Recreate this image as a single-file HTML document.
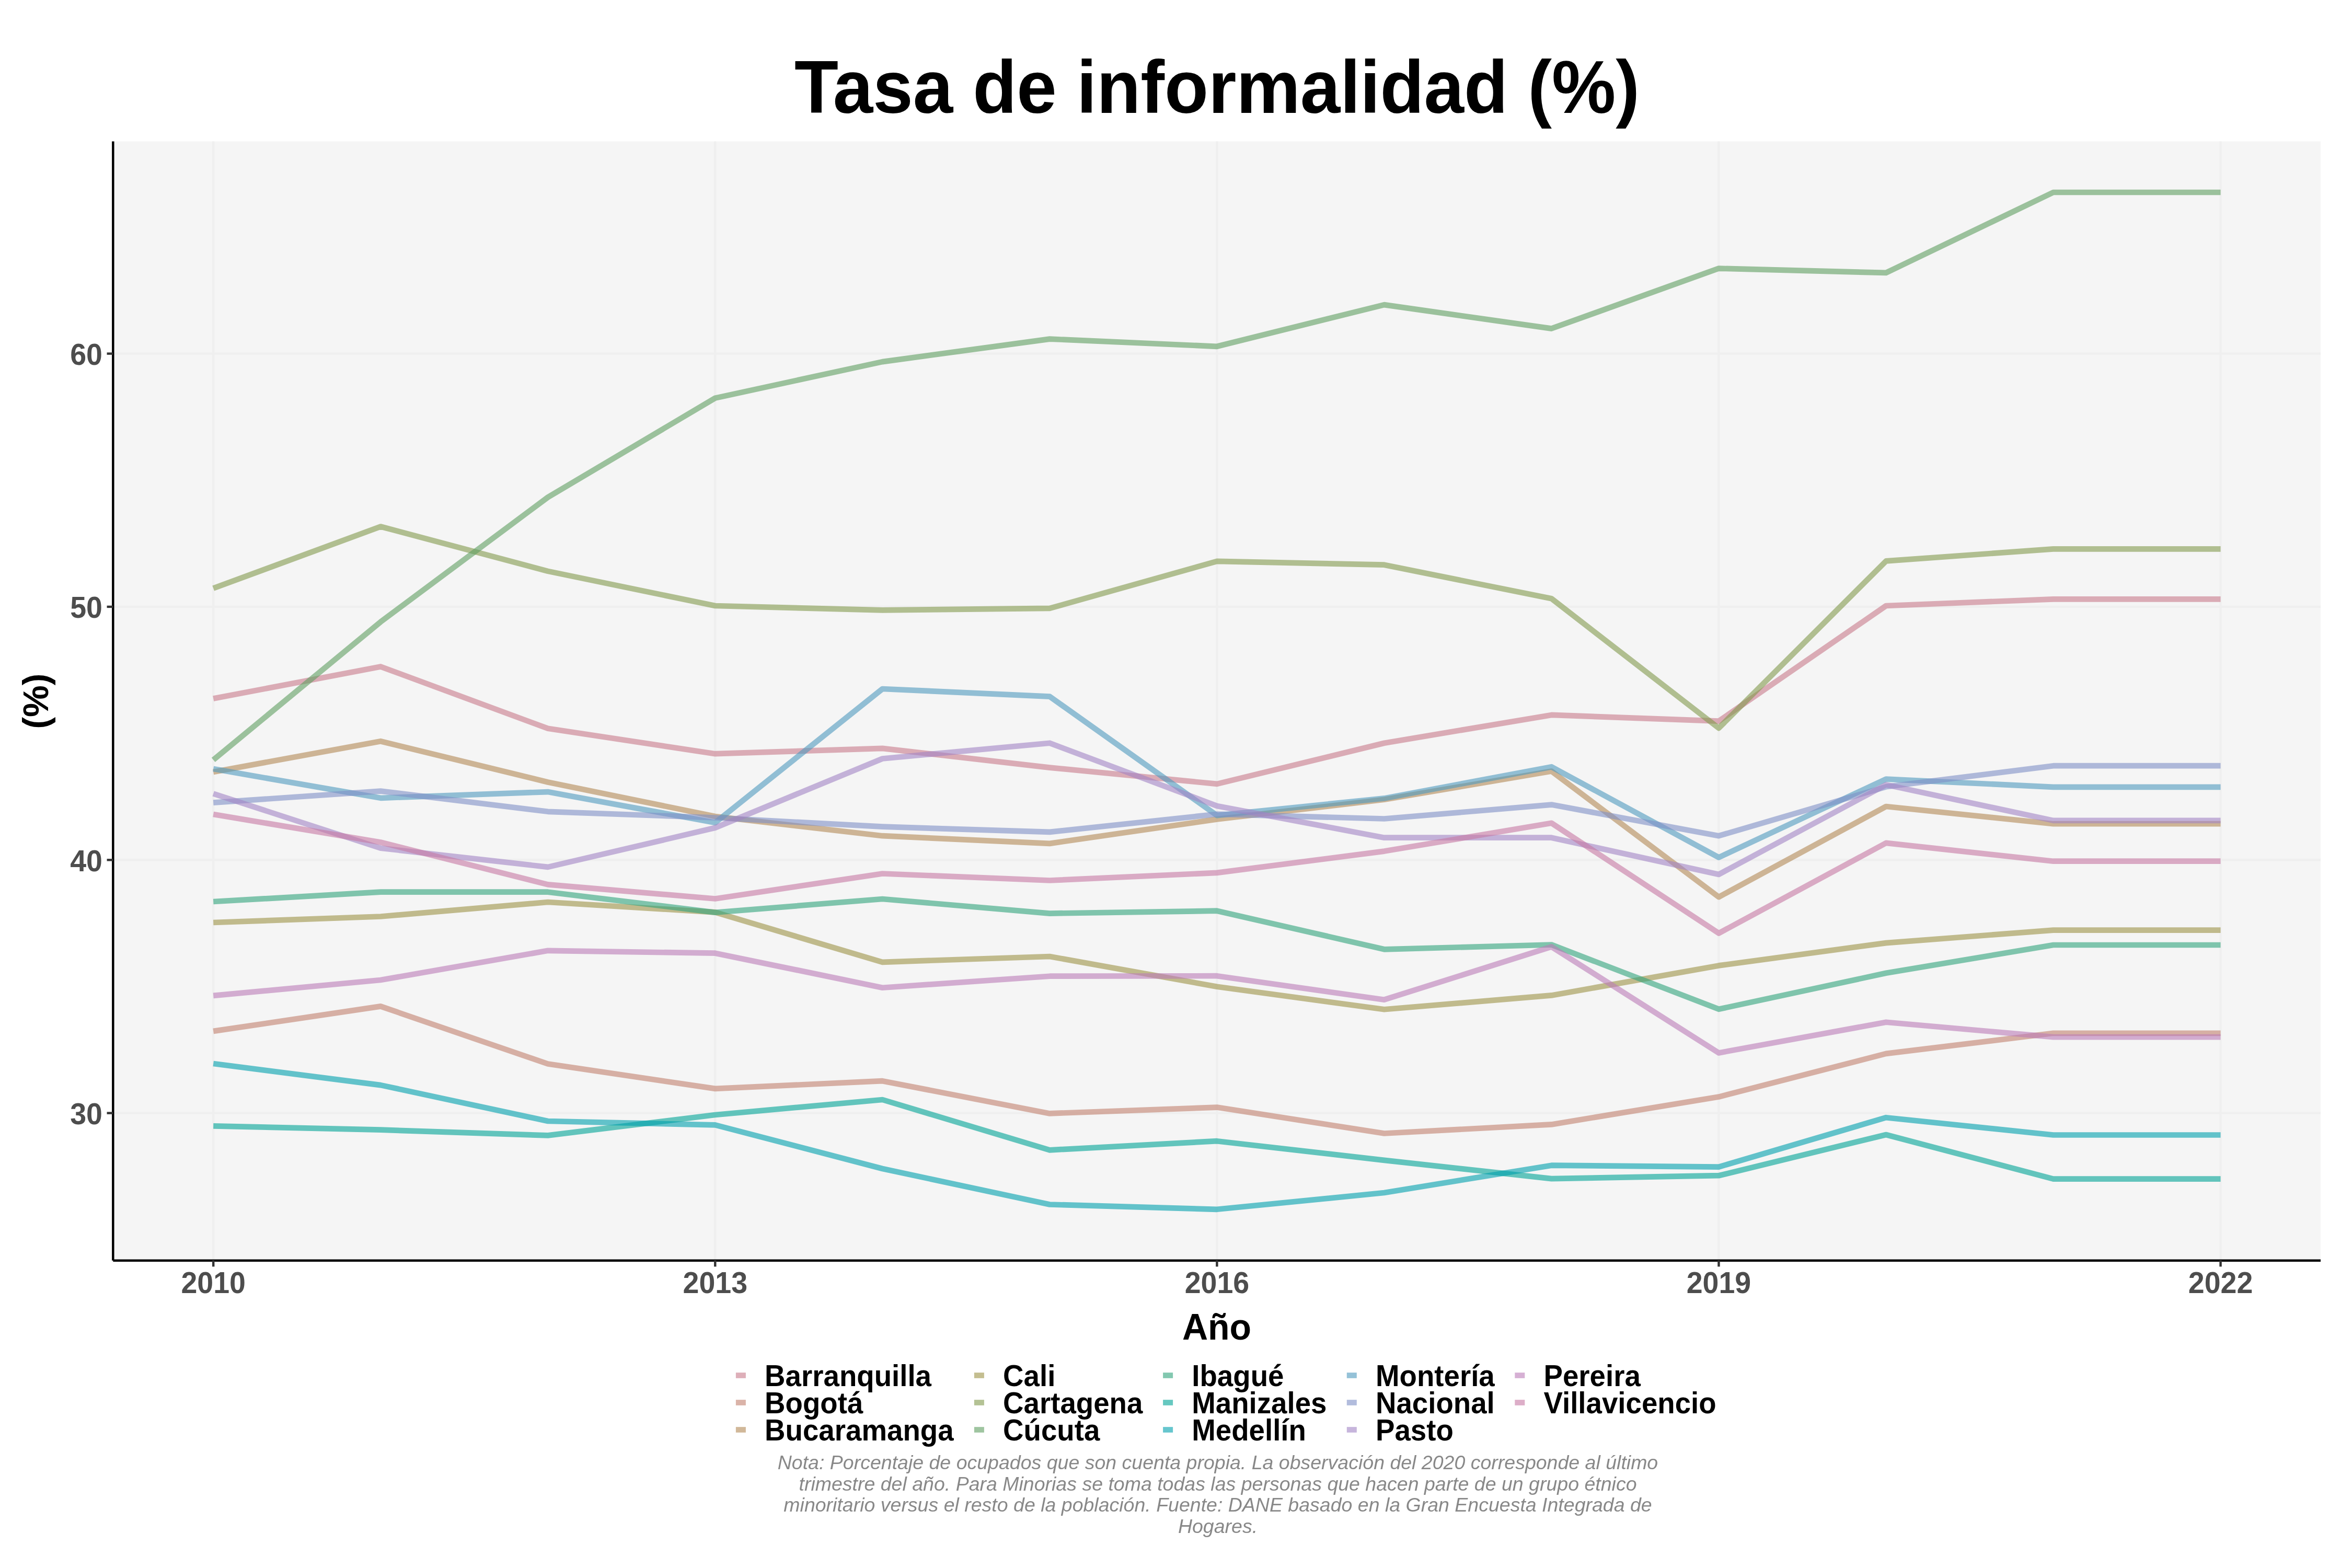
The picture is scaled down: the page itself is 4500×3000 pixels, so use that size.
<!DOCTYPE html>
<html><head><meta charset="utf-8"><title>Tasa de informalidad (%)</title>
<style>html,body{margin:0;padding:0;background:#fff;overflow:hidden}svg{display:block;will-change:transform}.b{font-family:"Liberation Sans",Arial,Helvetica,sans-serif;font-weight:bold}.cap{font-family:"Liberation Sans",Arial,Helvetica,sans-serif;font-style:italic}</style></head>
<body>
<svg width="4500" height="3000" viewBox="0 0 4500 3000">
<rect x="0" y="0" width="4500" height="3000" fill="#FFFFFF"/>
<rect x="216" y="270.6" width="4224" height="2140.6" fill="#F5F5F5"/>
<g stroke="#EFEFEF" stroke-width="4.4"><line x1="216" y1="2129.6" x2="4440" y2="2129.6"/><line x1="216" y1="1645.3" x2="4440" y2="1645.3"/><line x1="216" y1="1160.9" x2="4440" y2="1160.9"/><line x1="216" y1="676.6" x2="4440" y2="676.6"/><line x1="408.2" y1="270.6" x2="408.2" y2="2411.2"/><line x1="1368.29" y1="270.6" x2="1368.29" y2="2411.2"/><line x1="2328.38" y1="270.6" x2="2328.38" y2="2411.2"/><line x1="3288.47" y1="270.6" x2="3288.47" y2="2411.2"/><line x1="4248.56" y1="270.6" x2="4248.56" y2="2411.2"/></g>
<g fill="none" stroke-width="10.67" stroke-linejoin="round" stroke-linecap="butt" stroke-opacity="0.6">
<polyline stroke="#C87A8A" points="408.2,1336.5 728.23,1275.4 1048.26,1393.8 1368.29,1442.2 1688.32,1431.9 2008.35,1468.6 2328.38,1499.9 2648.41,1421.7 2968.44,1367.9 3288.47,1379.6 3608.5,1159 3928.53,1146.3 4248.56,1146.3"/>
<polyline stroke="#C1816E" points="408.2,1972.9 728.23,1925.4 1048.26,2035.5 1368.29,2082.9 1688.32,2068.2 2008.35,2130.4 2328.38,2118.6 2648.41,2168.5 2968.44,2151.4 3288.47,2098.6 3608.5,2015.9 3928.53,1976.8 4248.56,1976.8"/>
<polyline stroke="#B28955" points="408.2,1476.9 728.23,1418.2 1048.26,1496.5 1368.29,1562 1688.32,1599.2 2008.35,1613.9 2328.38,1567.4 2648.41,1529.8 2968.44,1475.5 3288.47,1716.2 3608.5,1543 3928.53,1576.2 4248.56,1576.2"/>
<polyline stroke="#9D9246" points="408.2,1765 728.23,1753.5 1048.26,1726 1368.29,1745.4 1688.32,1840.8 2008.35,1830 2328.38,1887.7 2648.41,1931.3 2968.44,1904.4 3288.47,1847.4 3608.5,1804.1 3928.53,1779.6 4248.56,1779.6"/>
<polyline stroke="#82994C" points="408.2,1125.6 728.23,1007.5 1048.26,1092.9 1368.29,1159 1688.32,1167.3 2008.35,1163.9 2328.38,1073.9 2648.41,1080.7 2968.44,1145.3 3288.47,1393.1 3608.5,1073.4 3928.53,1050.4 4248.56,1050.4"/>
<polyline stroke="#5F9F61" points="408.2,1453.9 728.23,1189.8 1048.26,951.4 1368.29,761.6 1688.32,692.1 2008.35,648.6 2328.38,662.8 2648.41,583.1 2968.44,628.6 3288.47,513.6 3608.5,521.9 3928.53,368.0 4248.56,368.0"/>
<polyline stroke="#30A37C" points="408.2,1725 728.23,1706.7 1048.26,1706.7 1368.29,1745.7 1688.32,1720 2008.35,1747.6 2328.38,1742.7 2648.41,1816.3 2968.44,1807.5 3288.47,1930.8 3608.5,1861.8 3928.53,1808 4248.56,1808"/>
<polyline stroke="#00A396" points="408.2,2154.3 728.23,2161.7 1048.26,2172.4 1368.29,2133 1688.32,2104 2008.35,2200.3 2328.38,2183.2 2648.41,2219.9 2968.44,2255.1 3288.47,2249.2 3608.5,2171 3928.53,2255.6 4248.56,2255.6"/>
<polyline stroke="#00A0AE" points="408.2,2035 728.23,2076.1 1048.26,2145 1368.29,2152.4 1688.32,2236 2008.35,2304.5 2328.38,2313.8 2648.41,2282 2968.44,2229.7 3288.47,2232.6 3608.5,2138.2 3928.53,2171.5 4248.56,2171.5"/>
<polyline stroke="#4E99BE" points="408.2,1471.1 728.23,1526.8 1048.26,1515.1 1368.29,1574 1688.32,1318 2008.35,1332.6 2328.38,1560.1 2648.41,1527.4 2968.44,1467.2 3288.47,1640.5 3608.5,1490.6 3928.53,1505.8 4248.56,1505.8"/>
<polyline stroke="#7E8FC7" points="408.2,1535.6 728.23,1513.6 1048.26,1552.8 1368.29,1564.5 1688.32,1581.7 2008.35,1591.9 2328.38,1557.7 2648.41,1566.5 2968.44,1539.6 3288.47,1599.2 3608.5,1505.3 3928.53,1465.2 4248.56,1465.2"/>
<polyline stroke="#A284C5" points="408.2,1518.5 728.23,1622.7 1048.26,1658.9 1368.29,1583.8 1688.32,1451.5 2008.35,1421.7 2328.38,1542 2648.41,1602.7 2968.44,1602.7 3288.47,1673 3608.5,1501.4 3928.53,1569.9 4248.56,1569.9"/>
<polyline stroke="#BA7BB8" points="408.2,1904.9 728.23,1875 1048.26,1818.8 1368.29,1823.7 1688.32,1889.7 2008.35,1867.7 2328.38,1867.2 2648.41,1912.7 2968.44,1811.4 3288.47,2014.4 3608.5,1955.7 3928.53,1984.1 4248.56,1984.1"/>
<polyline stroke="#C678A4" points="408.2,1558.1 728.23,1611.5 1048.26,1692.4 1368.29,1719.5 1688.32,1671.5 2008.35,1684.5 2328.38,1669.9 2648.41,1628.6 2968.44,1574.8 3288.47,1785.5 3608.5,1612.9 3928.53,1647.7 4248.56,1647.7"/>
</g>
<g stroke="#000" stroke-width="4.44" stroke-linecap="butt"><line x1="216.3" y1="270.6" x2="216.3" y2="2411.7"/><line x1="216.3" y1="2411.7" x2="4440" y2="2411.7"/></g>
<g stroke="#333333" stroke-width="4.44"><line x1="204.54" y1="2129.6" x2="216" y2="2129.6"/><line x1="204.54" y1="1645.3" x2="216" y2="1645.3"/><line x1="204.54" y1="1160.9" x2="216" y2="1160.9"/><line x1="204.54" y1="676.6" x2="216" y2="676.6"/><line x1="408.2" y1="2411.2" x2="408.2" y2="2423.4"/><line x1="1368.29" y1="2411.2" x2="1368.29" y2="2423.4"/><line x1="2328.38" y1="2411.2" x2="2328.38" y2="2423.4"/><line x1="3288.47" y1="2411.2" x2="3288.47" y2="2423.4"/><line x1="4248.56" y1="2411.2" x2="4248.56" y2="2423.4"/></g>
<g class="b" fill="#4D4D4D" font-size="54.17"><text transform="translate(195.90 2150.89) scale(1.025 1.07)" text-anchor="end">30</text><text transform="translate(195.90 1666.56) scale(1.025 1.07)" text-anchor="end">40</text><text transform="translate(195.90 1182.23) scale(1.025 1.07)" text-anchor="end">50</text><text transform="translate(195.90 697.90) scale(1.025 1.07)" text-anchor="end">60</text><text transform="translate(408.20 2473.80) scale(1.025 1.07)" text-anchor="middle">2010</text><text transform="translate(1368.29 2473.80) scale(1.025 1.07)" text-anchor="middle">2013</text><text transform="translate(2328.38 2473.80) scale(1.025 1.07)" text-anchor="middle">2016</text><text transform="translate(3288.47 2473.80) scale(1.025 1.07)" text-anchor="middle">2019</text><text transform="translate(4248.56 2473.80) scale(1.025 1.07)" text-anchor="middle">2022</text></g>
<text transform="translate(2328.50 215.70) scale(1.0 1.042)" text-anchor="middle" class="b" font-size="137.5" fill="#000">Tasa de informalidad (%)</text>
<text transform="translate(2328.00 2562.50) scale(1.02 1.05)" text-anchor="middle" class="b" font-size="66.67" fill="#000">Año</text>
<text transform="translate(92.20 1341.50) rotate(-90) scale(1.025 1.02)" text-anchor="middle" class="b" font-size="66.67" fill="#000">(%)</text>
<g class="b" font-size="54.17" fill="#000">
<rect x="1407.9" y="2626.16" width="19" height="10.67" fill="#C87A8A" fill-opacity="0.6"/><text transform="translate(1463.10 2651.90) scale(1.009 1.065)">Barranquilla</text>
<rect x="1407.9" y="2678.16" width="19" height="10.67" fill="#C1816E" fill-opacity="0.6"/><text transform="translate(1463.10 2703.90) scale(1.009 1.065)">Bogotá</text>
<rect x="1407.9" y="2730.16" width="19" height="10.67" fill="#B28955" fill-opacity="0.6"/><text transform="translate(1463.10 2755.90) scale(1.009 1.065)">Bucaramanga</text>
<rect x="1863.9" y="2626.16" width="19" height="10.67" fill="#9D9246" fill-opacity="0.6"/><text transform="translate(1919.10 2651.90) scale(1.009 1.065)">Cali</text>
<rect x="1863.9" y="2678.16" width="19" height="10.67" fill="#82994C" fill-opacity="0.6"/><text transform="translate(1919.10 2703.90) scale(1.009 1.065)">Cartagena</text>
<rect x="1863.9" y="2730.16" width="19" height="10.67" fill="#5F9F61" fill-opacity="0.6"/><text transform="translate(1919.10 2755.90) scale(1.009 1.065)">Cúcuta</text>
<rect x="2225.1" y="2626.16" width="19" height="10.67" fill="#30A37C" fill-opacity="0.6"/><text transform="translate(2280.30 2651.90) scale(1.009 1.065)">Ibagué</text>
<rect x="2225.1" y="2678.16" width="19" height="10.67" fill="#00A396" fill-opacity="0.6"/><text transform="translate(2280.30 2703.90) scale(1.009 1.065)">Manizales</text>
<rect x="2225.1" y="2730.16" width="19" height="10.67" fill="#00A0AE" fill-opacity="0.6"/><text transform="translate(2280.30 2755.90) scale(1.009 1.065)">Medellín</text>
<rect x="2576.8" y="2626.16" width="19" height="10.67" fill="#4E99BE" fill-opacity="0.6"/><text transform="translate(2632.00 2651.90) scale(1.009 1.065)">Montería</text>
<rect x="2576.8" y="2678.16" width="19" height="10.67" fill="#7E8FC7" fill-opacity="0.6"/><text transform="translate(2632.00 2703.90) scale(1.009 1.065)">Nacional</text>
<rect x="2576.8" y="2730.16" width="19" height="10.67" fill="#A284C5" fill-opacity="0.6"/><text transform="translate(2632.00 2755.90) scale(1.009 1.065)">Pasto</text>
<rect x="2898.3" y="2626.16" width="19" height="10.67" fill="#BA7BB8" fill-opacity="0.6"/><text transform="translate(2953.50 2651.90) scale(1.009 1.065)">Pereira</text>
<rect x="2898.3" y="2678.16" width="19" height="10.67" fill="#C678A4" fill-opacity="0.6"/><text transform="translate(2953.50 2703.90) scale(1.009 1.065)">Villavicencio</text>
</g>
<g class="cap" font-size="37.5" fill="#888888" text-anchor="middle"><text transform="translate(2330.00 2810.80)">Nota: Porcentaje de ocupados que son cuenta propia. La observación del 2020 corresponde al último</text><text transform="translate(2330.00 2851.80)">trimestre del año. Para Minorias se toma todas las personas que hacen parte de un grupo étnico</text><text transform="translate(2330.00 2891.80)">minoritario versus el resto de la población. Fuente: DANE basado en la Gran Encuesta Integrada de</text><text transform="translate(2330.00 2933.00)">Hogares.</text></g>
</svg>
</body></html>
